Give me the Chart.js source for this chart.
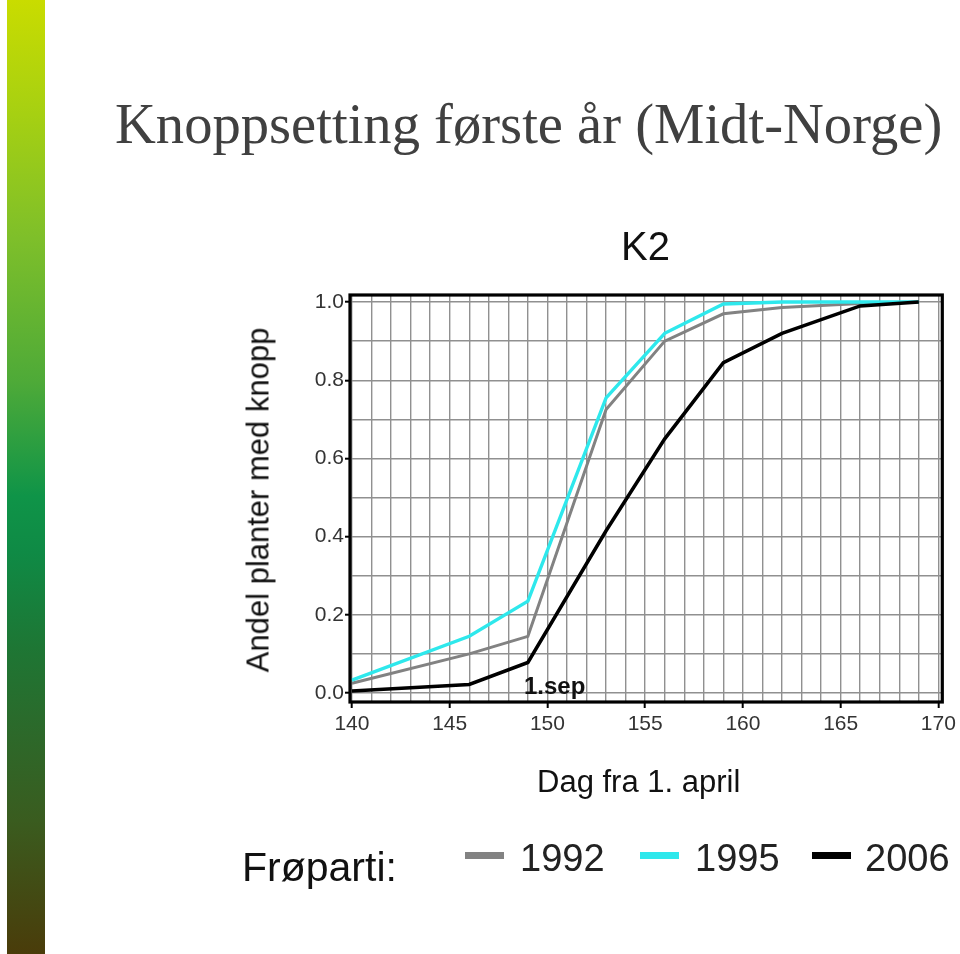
<!DOCTYPE html>
<html>
<head>
<meta charset="utf-8">
<script src="https://cdn.jsdelivr.net/npm/chart.js@4"></script>
<style>
  html, body { margin: 0; padding: 0; background: #fff; }
  #wrap { position: relative; width: 960px; height: 954px; overflow: hidden; }
  #bar { position: absolute; left: 7px; top: 0; width: 38px; height: 954px;
    background: linear-gradient(to bottom, #c9dc00 0%, #a6d012 12%, #7ebf2a 25%, #4eaa38 40%, #0f9448 52%, #0f8a45 58%, #1e7634 68%, #2b6a2b 76%, #3a5c1f 86%, #4a3c0a 100%); }
  canvas { position: absolute; left: 0; top: 0; }
  .t { position: absolute; white-space: nowrap; font-family: "Liberation Sans", Arial, sans-serif; color: #111; line-height: 1; }
</style>
</head>
<body>
<div id="wrap">
  <div id="bar"></div>
  <canvas id="c" width="960" height="954"></canvas>
  <div class="t" id="title" style="font-family:'Liberation Serif','Times New Roman',serif;font-size:56.6px;color:#404040;left:115px;top:96px;">Knoppsetting første år (Midt-Norge)</div>
  <div class="t" style="font-size:40px;left:621px;top:226px;">K2</div>
  <div class="t" style="font-size:31px;left:258px;top:500px;transform:translate(-50%,-50%) rotate(-90deg);">Andel planter med knopp</div>
  <div class="t" style="font-size:31px;left:537px;top:766px;">Dag fra 1. april</div>
  <div class="t" style="font-size:24px;font-weight:bold;left:524px;top:674px;">1.sep</div>
  <div class="t" style="font-size:41px;left:242px;top:847px;">Frøparti:</div>
  <div id="legend"></div>
</div>
<script>
// ---- data ----
const days = [140, 146, 149, 153, 156, 159, 162, 166, 169];
const seriesNames = ['1992', '1995', '2006'];
const s1992 = [0.025, 0.10, 0.145, 0.725, 0.90, 0.97, 0.986, 0.996, 1.0];
const s1995 = [0.033, 0.145, 0.235, 0.755, 0.92, 0.995, 1.0, 1.0, 1.0];
const s2006 = [0.005, 0.022, 0.078, 0.415, 0.65, 0.845, 0.92, 0.99, 1.0];
const xTickLabels = [140, 145, 150, 155, 160, 165, 170];
const yTickLabels = ['0.0', '0.2', '0.4', '0.6', '0.8', '1.0'];

const colors = ['#828282', '#2ee8ec', '#000000'];
const widths = [3, 3.4, 3.5];
const seriesValues = [s1992, s1995, s2006];

function pts(vals) { return days.map((d, i) => ({ x: d, y: vals[i] })); }

const frame = {
  id: 'frame',
  afterDraw(chart) {
    const a = chart.chartArea, ctx = chart.ctx;
    ctx.save();
    ctx.strokeStyle = '#000';
    ctx.lineWidth = 3.2;
    ctx.strokeRect(a.left, a.top, a.right - a.left, a.bottom - a.top);
    ctx.restore();
  }
};

const tickFont = { family: "'Liberation Sans', Arial, sans-serif", size: 21 };

new Chart(document.getElementById('c'), {
  type: 'line',
  data: {
    datasets: seriesNames.map((name, i) => ({
      label: name,
      data: pts(seriesValues[i]),
      borderColor: colors[i],
      borderWidth: widths[i],
      pointRadius: 0,
      tension: 0,
      fill: false,
      order: 2 - i
    }))
  },
  options: {
    responsive: false,
    animation: false,
    devicePixelRatio: 1,
    layout: { padding: { top: 295, right: 15, left: 0, bottom: 0 } },
    plugins: { legend: { display: false }, tooltip: { enabled: false } },
    scales: {
      x: {
        type: 'linear',
        min: 139.9,
        max: 170.2,
        afterFit(s) { s.height = 252; },
        afterBuildTicks(s) {
          const t = [];
          for (let d = xTickLabels[0]; d <= xTickLabels[xTickLabels.length - 1]; d++) t.push({ value: d });
          s.ticks = t;
        },
        border: { display: false },
        grid: {
          color: '#909090',
          lineWidth: 1.4,
          tickLength: 6,
          tickWidth: 2,
          tickColor: (ctx) => (ctx.tick && xTickLabels.includes(ctx.tick.value)) ? '#000' : 'rgba(0,0,0,0)'
        },
        ticks: {
          autoSkip: false,
          maxRotation: 0,
          padding: 4,
          color: '#333',
          font: tickFont,
          callback: (v) => xTickLabels.includes(v) ? String(v) : ''
        }
      },
      y: {
        min: -0.023,
        max: 1.018,
        afterFit(s) { s.width = 350; },
        afterBuildTicks(s) {
          const t = [];
          for (let k = 0; k <= 10; k++) t.push({ value: k / 10 });
          s.ticks = t;
        },
        border: { display: false },
        grid: {
          color: '#909090',
          lineWidth: 1.4,
          tickLength: 5,
          tickWidth: 2,
          tickColor: (ctx) => (ctx.tick && yTickLabels.includes(ctx.tick.value.toFixed(1)) && Math.round(ctx.tick.value * 10) % 2 === 0) ? '#000' : 'rgba(0,0,0,0)'
        },
        ticks: {
          autoSkip: false,
          padding: 1,
          color: '#333',
          font: tickFont,
          callback: (v) => { const l = v.toFixed(1); return (Math.round(v * 10) % 2 === 0 && yTickLabels.includes(l)) ? l : ''; }
        }
      }
    }
  },
  plugins: [frame]
});

// legend (HTML) built from the series names/colours
const legendPos = [{ line: 465, text: 520 }, { line: 640, text: 695 }, { line: 812, text: 865 }];
const lg = document.getElementById('legend');
seriesNames.forEach((name, i) => {
  const ln = document.createElement('div');
  ln.style.cssText = `position:absolute;left:${legendPos[i].line}px;top:852px;width:39px;height:7px;background:${colors[i]};`;
  lg.appendChild(ln);
  const tx = document.createElement('div');
  tx.className = 't';
  tx.style.cssText = `font-size:38px;color:#222;left:${legendPos[i].text}px;top:839px;`;
  tx.textContent = name;
  lg.appendChild(tx);
});
</script>
</body>
</html>
